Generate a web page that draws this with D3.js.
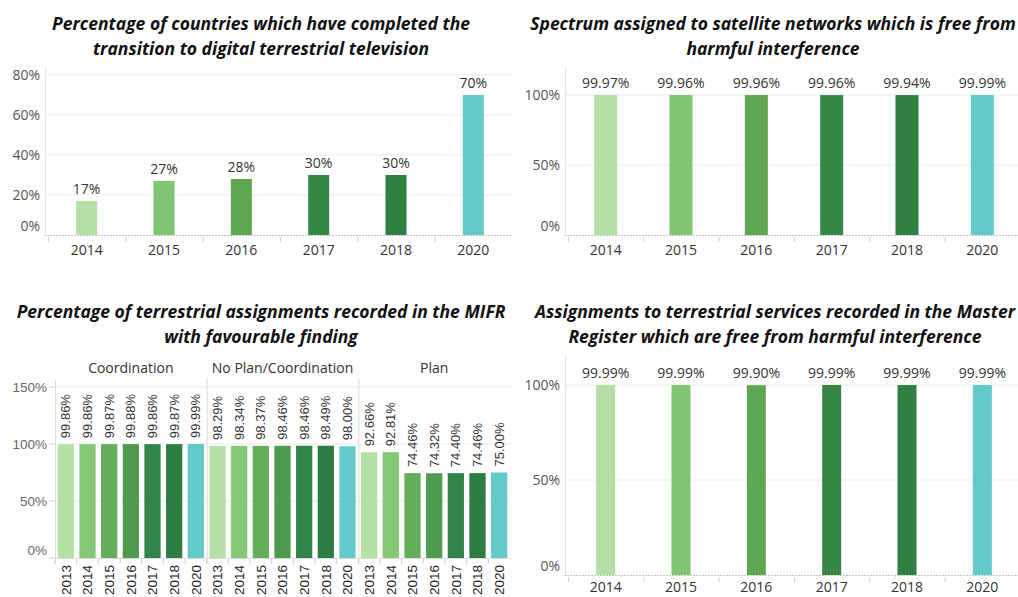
<!DOCTYPE html>
<html><head><meta charset="utf-8">
<script src="https://cdn.jsdelivr.net/npm/d3@7"></script>
<style>
body{margin:0;background:#fff;}
svg{display:block;}
</style></head>
<body><svg id="c" width="1018" height="597"></svg>
<script>
// ---------- DATA ----------
const dttYears = ["2014","2015","2016","2017","2018","2020"];
const dttValues = [0.17, 0.27, 0.28, 0.30, 0.30, 0.70];
const dttLabels = ["17%","27%","28%","30%","30%","70%"];
const dttTicks = [0, 0.2, 0.4, 0.6, 0.8];

const satYears = ["2014","2015","2016","2017","2018","2020"];
const satValues = [0.9997, 0.9996, 0.9996, 0.9996, 0.9994, 0.9999];
const satLabels = ["99.97%","99.96%","99.96%","99.96%","99.94%","99.99%"];
const satTicks = [0, 0.5, 1.0];

const terYears = ["2014","2015","2016","2017","2018","2020"];
const terValues = [0.9999, 0.9999, 0.9990, 0.9999, 0.9999, 0.9999];
const terLabels = ["99.99%","99.99%","99.90%","99.99%","99.99%","99.99%"];
const terTicks = [0, 0.5, 1.0];

const mifrGroups = ["Coordination","No Plan/Coordination","Plan"];
const mifrYears = ["2013","2014","2015","2016","2017","2018","2020"];
const mifrCoordination = [0.9986, 0.9986, 0.9987, 0.9988, 0.9986, 0.9987, 0.9999];
const mifrNoPlan = [0.9829, 0.9834, 0.9837, 0.9846, 0.9846, 0.9849, 0.9800];
const mifrPlan = [0.9266, 0.9281, 0.7446, 0.7432, 0.7440, 0.7446, 0.7500];
const mifrTicks = [0, 0.5, 1.0, 1.5];

// ---------- STYLE ----------
const pal6 = ['#b3e0a4','#80c574','#5fa653','#368746','#2e8043','#62cbc9'];
const pal7 = ['#b3e0a4','#84c877','#65ad5a','#4e9a4f','#31844a','#2c7c43','#62cbc9'];
const FONT = "'Open Sans', sans-serif";
const ARIAL = "'Liberation Sans', Arial, sans-serif";
const svg = d3.select('#c');

function title(cx, y, lines){
  const t = svg.append('text').attr('text-anchor','middle')
    .style('font-family',FONT).style('font-weight',700).style('font-style','italic')
    .style('font-size','17.5px').attr('fill','#111');
  lines.forEach((l,i)=>t.append('tspan').attr('x',cx).attr('y',y+i*24.5).text(l));
}

function simpleChart(o){
  const g = svg.append('g');
  const x = d3.scaleBand().domain(o.years).range([o.left,o.right]);
  const y = d3.scaleLinear().domain([0,o.max]).range([o.y0,o.yMax]);
  g.selectAll('.gl').data(o.ticks.filter(t=>t>0)).join('line')
    .attr('x1',o.left-4).attr('x2',o.right).attr('y1',d=>y(d)).attr('y2',d=>y(d))
    .attr('stroke','#ececec').attr('stroke-width',1);
  g.append('line').attr('x1',o.left-2.5).attr('x2',o.left-2.5).attr('y1',o.top).attr('y2',o.y0)
    .attr('stroke','#e6e6e6');
  g.append('line').attr('x1',o.left-4).attr('x2',o.right).attr('y1',o.y0+0.5).attr('y2',o.y0+0.5)
    .attr('stroke','#c4c4c4').attr('stroke-dasharray','2,1');
  g.selectAll('.xt').data(o.years).join('line')
    .attr('x1',d=>x(d)+0.5).attr('x2',d=>x(d)+0.5).attr('y1',o.y0+2).attr('y2',o.y0+7)
    .attr('stroke','#d0d0d0');
  g.selectAll('.yl').data(o.ticks).join('text')
    .attr('x',o.left-8).attr('y',d=>y(d)+ (d===0? -9:0)).attr('dy','0.35em')
    .attr('text-anchor','end').style('font-family',FONT).style('font-size','14px').attr('fill','#555')
    .text(d=>d3.format('.0%')(d));
  g.selectAll('.b').data(o.values).join('rect')
    .attr('x',(d,i)=>x(o.years[i])+x.bandwidth()/2-o.bw/2).attr('width',o.bw)
    .attr('y',d=>y(d)).attr('height',d=>o.y0-y(d)).attr('fill',(d,i)=>pal6[i]);
  g.selectAll('.vl').data(o.values).join('text')
    .attr('x',(d,i)=>x(o.years[i])+x.bandwidth()/2).attr('y',d=>y(d)-7)
    .attr('text-anchor','middle').style('font-family',FONT).style('font-size','14px').attr('fill','#333')
    .text((d,i)=>o.labels[i]);
  g.selectAll('.yr').data(o.years).join('text')
    .attr('x',d=>x(d)+x.bandwidth()/2).attr('y',Math.min(o.y0+20, 592))
    .attr('text-anchor','middle').style('font-family',FONT).style('font-size','14px').attr('fill','#333')
    .text(d=>d);
}

title(261, 30, ["Percentage of countries which have completed the","transition to digital terrestrial television"]);
simpleChart({years:dttYears, values:dttValues, labels:dttLabels, ticks:dttTicks, max:0.8,
  left:48, right:512, top:67, y0:235, yMax:75, bw:21});

title(773, 30, ["Spectrum assigned to satellite networks which is free from","harmful interference"]);
simpleChart({years:satYears, values:satValues, labels:satLabels, ticks:satTicks, max:1,
  left:568, right:1020, top:67, y0:235, yMax:95, bw:23});

title(775, 318, ["Assignments to terrestrial services recorded in the Master","Register which are free from harmful interference"]);
simpleChart({years:terYears, values:terValues, labels:terLabels, ticks:terTicks, max:1,
  left:568, right:1020, top:355, y0:575, yMax:385, bw:19});

// ---------- MIFR grouped chart ----------
title(261, 318, ["Percentage of terrestrial assignments recorded in the MIFR","with favourable finding"]);
(function(){
  const g = svg.append('g');
  const left=55, right=510, top=380, y0=558;
  const gx = d3.scaleBand().domain(mifrGroups).range([left,right]);
  const ix = d3.scaleBand().domain(mifrYears).range([0,gx.bandwidth()]).paddingInner(0.25).paddingOuter(0.125);
  const y = d3.scaleLinear().domain([0,1.5]).range([y0,387]);
  const series = [mifrCoordination, mifrNoPlan, mifrPlan];
  g.selectAll('.gl').data(mifrTicks.filter(t=>t>0)).join('line')
    .attr('x1',left).attr('x2',right).attr('y1',d=>y(d)).attr('y2',d=>y(d)).attr('stroke','#ececec');
  g.append('line').attr('x1',left+0.5).attr('x2',left+0.5).attr('y1',top).attr('y2',y0+6).attr('stroke','#dcdcdc');
  g.selectAll('.yt').data(mifrTicks).join('line')
    .attr('x1',left-6).attr('x2',left).attr('y1',d=>y(d)).attr('y2',d=>y(d)).attr('stroke','#d0d0d0');
  g.selectAll('.yl').data(mifrTicks).join('text')
    .attr('x',left-8).attr('y',d=>y(d)+(d===0?-8:0)).attr('dy','0.35em').attr('text-anchor','end')
    .style('font-family',ARIAL).style('font-size','13.5px').attr('fill','#666')
    .text(d=>d3.format('.0%')(d));
  g.selectAll('.gd').data(mifrGroups.slice(1)).join('line')
    .attr('x1',d=>gx(d)+0.5).attr('x2',d=>gx(d)+0.5).attr('y1',top-2).attr('y2',y0+6).attr('stroke','#dcdcdc');
  g.append('line').attr('x1',left).attr('x2',right).attr('y1',y0+0.5).attr('y2',y0+0.5).attr('stroke','#dcdcdc');
  g.selectAll('.gh').data(mifrGroups).join('text')
    .attr('x',d=>gx(d)+gx.bandwidth()/2).attr('y',373).attr('text-anchor','middle')
    .style('font-family',FONT).style('font-size','14px').attr('fill','#333').text(d=>d);
  series.forEach((vals,gi)=>{
    const grp = mifrGroups[gi];
    const gg = g.append('g').attr('transform',`translate(${gx(grp)},0)`);
    gg.selectAll('.xt').data(mifrYears).join('line')
      .attr('x1',d=>ix(d)-ix.step()*ix.paddingInner()/2).attr('x2',d=>ix(d)-ix.step()*ix.paddingInner()/2)
      .attr('y1',y0+1).attr('y2',y0+6).attr('stroke','#d0d0d0');
    gg.selectAll('rect').data(vals).join('rect')
      .attr('x',(d,i)=>ix(mifrYears[i])).attr('width',ix.bandwidth())
      .attr('y',d=>y(d)).attr('height',d=>y0-y(d)).attr('fill',(d,i)=>pal7[i]);
    gg.selectAll('.vl').data(vals).join('text')
      .attr('transform',(d,i)=>`translate(${ix(mifrYears[i])+ix.bandwidth()/2},${y(d)-6}) rotate(-90)`)
      .attr('dy','0.35em').attr('text-anchor','start')
      .style('font-family',ARIAL).style('font-size','13px').attr('fill','#333')
      .text(d=>d3.format('.2%')(d));
    gg.selectAll('.yr').data(mifrYears).join('text')
      .attr('transform',d=>`translate(${ix(d)+ix.bandwidth()/2},${y0+7}) rotate(-90)`)
      .attr('dy','0.35em').attr('text-anchor','end')
      .style('font-family',ARIAL).style('font-size','13.5px').attr('fill','#222')
      .text(d=>d);
  });
})();
</script></body></html>
